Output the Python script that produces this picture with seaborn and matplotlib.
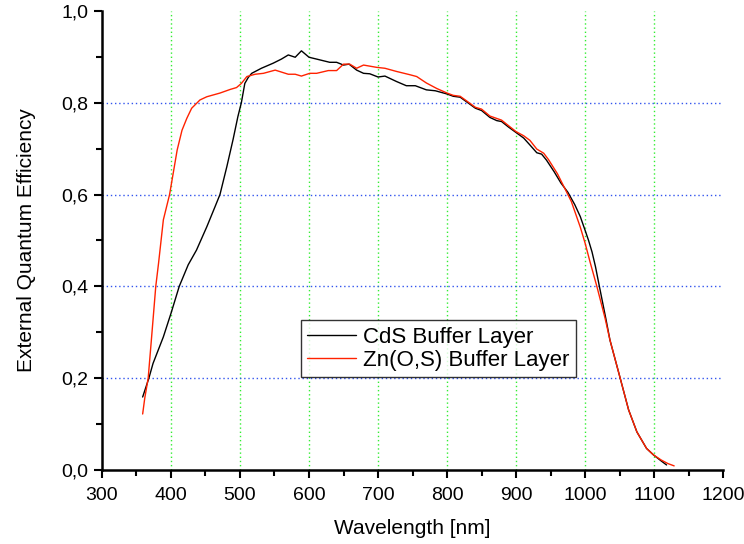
import numpy as np
import pandas as pd
import matplotlib
matplotlib.use("Agg")
import matplotlib.pyplot as plt
import seaborn as sns
from matplotlib.ticker import MultipleLocator, FuncFormatter

cds_wl = [359, 368, 374, 389, 400, 412, 425, 437, 452, 464, 471, 481, 490, 497, 502, 507,
          512, 517, 531, 548, 560, 570, 580, 589, 600, 611, 630, 640, 650, 658, 669, 679,
          688, 700, 710, 727, 741, 754, 770, 783, 800, 809, 819, 831, 841, 850, 862, 872,
          879, 889, 900, 911, 920, 930, 937, 944, 955, 965, 975, 985, 993, 1000, 1005, 1010,
          1015, 1020, 1030, 1036, 1051, 1063, 1075, 1089, 1099, 1110, 1118]
cds_eqe = [0.159, 0.2, 0.232, 0.29, 0.341, 0.4, 0.447, 0.479, 0.53, 0.574, 0.6, 0.661,
           0.72, 0.77, 0.80, 0.842, 0.855, 0.864, 0.875, 0.886, 0.895, 0.904, 0.899, 0.913,
           0.899, 0.895, 0.888, 0.888, 0.882, 0.884, 0.871, 0.864, 0.863, 0.856, 0.858,
           0.846, 0.837, 0.837, 0.828, 0.826, 0.819, 0.814, 0.812, 0.799, 0.788, 0.783,
           0.768, 0.761, 0.759, 0.747, 0.735, 0.723, 0.708, 0.691, 0.688, 0.675, 0.65,
           0.625, 0.605, 0.578, 0.552, 0.522, 0.500, 0.475, 0.443, 0.405, 0.330, 0.283,
           0.199, 0.131, 0.083, 0.047, 0.033, 0.02, 0.011]

zns_wl = [359, 362, 367, 372, 378, 382, 389, 398, 409, 416, 423, 430, 442, 452, 471, 486,
          495, 502, 510, 522, 534, 551, 570, 580, 589, 601, 611, 628, 640, 650, 659, 669,
          679, 698, 710, 727, 746, 756, 770, 785, 800, 809, 819, 831, 841, 850, 862, 879,
          889, 900, 911, 920, 930, 940, 947, 960, 970, 980, 993, 1000, 1007, 1017, 1029,
          1036, 1051, 1063, 1075, 1089, 1099, 1110, 1120, 1129]
zns_eqe = [0.122, 0.156, 0.2, 0.29, 0.4, 0.45, 0.545, 0.6, 0.697, 0.74, 0.766, 0.788,
           0.806, 0.813, 0.821, 0.829, 0.833, 0.842, 0.857, 0.862, 0.864, 0.871, 0.862,
           0.862, 0.858, 0.864, 0.864, 0.870, 0.870, 0.884, 0.884, 0.875, 0.882, 0.877,
           0.875, 0.868, 0.861, 0.857, 0.843, 0.831, 0.821, 0.816, 0.814, 0.801, 0.790,
           0.786, 0.771, 0.762, 0.750, 0.737, 0.728, 0.718, 0.699, 0.690, 0.676, 0.645,
           0.615, 0.585, 0.529, 0.494, 0.454, 0.400, 0.33, 0.283, 0.199, 0.131, 0.083,
           0.047, 0.033, 0.022, 0.014, 0.009]

series_names = ["CdS Buffer Layer", "Zn(O,S) Buffer Layer"]
x_ticks = [300, 400, 500, 600, 700, 800, 900, 1000, 1100, 1200]
y_ticks = [0.0, 0.2, 0.4, 0.6, 0.8, 1.0]

df = pd.concat([
    pd.DataFrame({"wl": cds_wl, "eqe": cds_eqe, "s": series_names[0]}),
    pd.DataFrame({"wl": zns_wl, "eqe": zns_eqe, "s": series_names[1]}),
], ignore_index=True)

sns.set_style("white")
plt.rcParams["font.family"] = ["Liberation Sans", "DejaVu Sans"]
plt.rcParams["text.color"] = "black"
plt.rcParams["axes.labelcolor"] = "black"

fig = plt.figure(figsize=(7.44, 5.44), dpi=100)
ax = fig.add_axes([0.137, 0.136, 0.835, 0.844])

# grid lines
for xv in x_ticks[1:-1]:
    ax.axvline(xv, color="#33ee33", linestyle=(0, (1, 2)), linewidth=1.0, zorder=1)
for yv in y_ticks[1:-1]:
    ax.axhline(yv, color="#3355ee", linestyle=(0, (1, 2)), linewidth=1.0, zorder=1)

sns.lineplot(data=df, x="wl", y="eqe", hue="s", palette=["black", "#ff2200"],
             sort=False, estimator=None, linewidth=1.0, ax=ax, zorder=3)

ax.set_xlim(300, 1200)
ax.set_ylim(0, 1.0)
ax.set_xticks(x_ticks)
ax.set_yticks(y_ticks)
ax.xaxis.set_minor_locator(MultipleLocator(50))
ax.yaxis.set_minor_locator(MultipleLocator(0.1))
ax.yaxis.set_major_formatter(FuncFormatter(lambda v, p: f"{v:.1f}".replace(".", ",")))
ax.tick_params(which="major", direction="out", length=6, width=1.5, labelsize=14,
               colors="black", labelcolor="black", pad=4)
ax.tick_params(which="minor", direction="out", length=4, width=1.5, colors="black")
ax.tick_params(axis="x", which="both", bottom=True)
ax.tick_params(axis="y", which="both", left=True)
ax.tick_params(axis="x", which="major", pad=6)

for side in ["top", "right"]:
    ax.spines[side].set_visible(False)
for side in ["left", "bottom"]:
    ax.spines[side].set_linewidth(1.8)
    ax.spines[side].set_color("black")

ax.set_xlabel("Wavelength [nm]", fontsize=15, labelpad=11, color="black")
ax.set_ylabel("External Quantum Efficiency", fontsize=15, labelpad=18, color="black")

leg = ax.legend(loc="upper left", bbox_to_anchor=(0.32, 0.327), fontsize=16,
                frameon=True, fancybox=False, handlelength=2.2, borderpad=0.3,
                labelspacing=0.1, handletextpad=0.3, borderaxespad=0)
leg.get_frame().set_edgecolor("black")
leg.get_frame().set_linewidth(1.0)
for t in leg.get_texts():
    t.set_color("black")

fig.savefig("out.png", dpi=100)
